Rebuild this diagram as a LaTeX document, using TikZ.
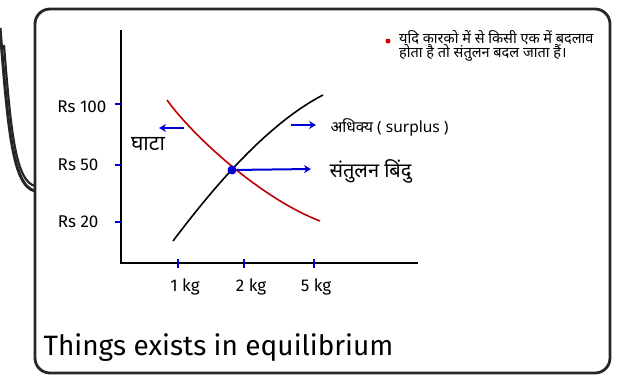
\documentclass[tikz,border=0pt]{standalone}
\usepackage{fontspec}
\setmainfont{Fira Sans}
\newfontfamily\deva[Script=Devanagari]{Noto Sans}
\usepackage{tikz}
\usetikzlibrary{positioning, arrows.meta, calc}

\tikzset{
  axis/.style={line width=1.4pt, black},
  tickmark/.style={line width=1.6pt, blue!80!black},
  bluearrow/.style={-{Stealth[length=7pt,width=8pt]}, line width=2pt, blue!85!black},
  ticklabel/.style={font=\fontsize{17}{17}\selectfont},
}

\begin{document}
\begin{tikzpicture}[x=1pt, y=-1pt]
\useasboundingbox (0,0) rectangle (623,378);

% Frame
\draw[line width=2.8pt, black!85, rounded corners=15pt] (35,9) rectangle (610,373);
\draw[line width=3pt, black!85] (0,28) .. controls (8,125) and (12,186) .. (35,191);
\draw[line width=2.2pt, black!85] (4,45) .. controls (11,135) and (16,181) .. (35,186);

% Axes
\coordinate (O) at (121,263);
\coordinate (ytop) at (121,30);
\coordinate (xend) at (418,263);
\draw[axis] (ytop) -- (O) -- (xend);

% Price ticks
\node[ticklabel, anchor=east] (p100) at (110,107) {Rs 100};
\node[ticklabel, anchor=east] (p50) at (102,165) {Rs 50};
\node[ticklabel, anchor=east] (p20) at (102,222) {Rs 20};
\draw[tickmark] (115,104) -- (121,104);
\draw[tickmark] (115,165) -- (121,165);
\draw[tickmark] (115,222) -- (121,222);

% Quantity ticks
\draw[tickmark] (178,259) -- (178,268);
\draw[tickmark] (244,259) -- (244,268);
\draw[tickmark] (314,259) -- (314,268);
\node[ticklabel] (q1) at (185,287) {1 kg};
\node[ticklabel] (q2) at (251,287) {2 kg};
\node[ticklabel] (q5) at (316,287) {5 kg};

% Curves
\draw[line width=1.6pt, black] (173,241) .. controls (210,192) and (265,125) .. (323,95);
\draw[line width=1.6pt, red!75!black] (167,100) .. controls (192,135) and (260,198) .. (320,221);
\node[circle, fill=blue!85!black, inner sep=0pt, minimum size=9pt] (eq) at (232,170) {};

% Labels and arrows
\coordinate (deficitA) at (184,128);
\coordinate (deficitB) at (159,128);
\draw[bluearrow] (deficitA) -- (deficitB);
\node[font=\deva\fontsize{21}{21}\selectfont] (deficit) at (148,144) {घाटा};

\coordinate (surplusA) at (291,125);
\coordinate (surplusB) at (316,125);
\draw[bluearrow] (surplusA) -- (surplusB);
\node[font=\deva\fontsize{15.5}{15.5}\selectfont, anchor=west] (surplus) at (327,127) {अधिक्य ( surplus )};

\coordinate (eqB) at (311,169);
\draw[bluearrow] (eq) -- (eqB);
\node[font=\deva\fontsize{20}{20}\selectfont, anchor=west] (eqlabel) at (326,171) {संतुलन बिंदु};

% Note
\node[circle, fill=red!80!black, inner sep=0pt, minimum size=5pt] (bullet) at (388,41) {};
\node[font=\deva\fontsize{14.5}{14.5}\selectfont, anchor=north west, align=left, inner sep=0pt] (note) at (399,30) {यदि कारको में से किसी एक में बदलाव\\होता है तो संतुलन बदल जाता हैं।};

% Caption
\node[font=\fontsize{28}{28}\selectfont, anchor=west] (caption) at (40,348) {Things exists in equilibrium};
\end{tikzpicture}
\end{document}
